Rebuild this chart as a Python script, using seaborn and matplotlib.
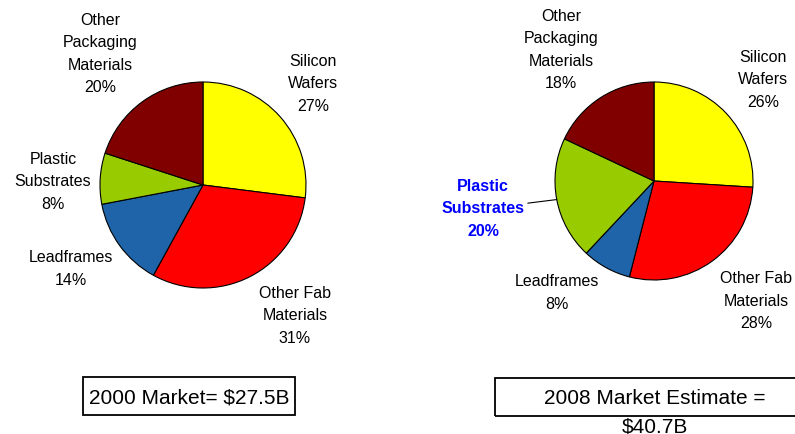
"""
Semiconductor materials market share, 2000 vs 2008 estimate.
Two pies side by side with market size boxes underneath.
"""
import numpy as np
import matplotlib
matplotlib.use("Agg")
import matplotlib.pyplot as plt
import seaborn as sns
from matplotlib.patches import Rectangle

sns.set_theme(style="white")
plt.rcParams["font.family"] = ["Liberation Sans", "DejaVu Sans"]

# data
segments = ["Silicon\nWafers", "Other Fab\nMaterials", "Leadframes",
            "Plastic\nSubstrates", "Other\nPackaging\nMaterials"]
share_2000 = [27, 31, 14, 8, 20]
share_2008 = [26, 28, 8, 20, 18]
market_2000 = "2000 Market= $27.5B"
market_2008 = "2008 Market Estimate =\n$40.7B"

colors = ["#FFFF00", "#FF0000", "#1F64A8", "#99CC00", "#800000"]

W, H = 795, 435
fig = plt.figure(figsize=(W / 100, H / 100), dpi=100)
ax = fig.add_axes([0, 0, 1, 1])


def py(y):
    # pixel row -> data y
    return H - y


wedge_style = dict(edgecolor="black", linewidth=0.8)
label_style = dict(ha="center", va="center", fontsize=11.5, linespacing=1.63)

# left pie (2000)
w_left, _ = ax.pie(share_2000, colors=colors, startangle=90, counterclock=False,
                   center=(203, py(186)), radius=103, wedgeprops=wedge_style, frame=True)
left_pos = [(313, 84), (295, 316), (71, 269), (53, 182), (100, 54)]
for name, val, (x, y) in zip(segments, share_2000, left_pos):
    ax.text(x, py(y), f"{name}\n{val}%", color="black", **label_style)

# right pie (2008)
w_right, _ = ax.pie(share_2008, colors=colors, startangle=90, counterclock=False,
                    center=(654, py(182)), radius=99, wedgeprops=wedge_style, frame=True)
right_pos = [(763, 80), (756, 301), (557, 293), (483, 209), (561, 50)]
for i, (name, val, (x, y)) in enumerate(zip(segments, share_2008, right_pos)):
    txt = f"{name}\n{val}%"
    if i == 3:
        # highlighted slice, with a leader line to the wedge edge
        w = w_right[i]
        mid = np.deg2rad((w.theta1 + w.theta2) / 2)
        edge = (w.center[0] + w.r * np.cos(mid), w.center[1] + w.r * np.sin(mid))
        ax.annotate(txt, xy=edge, xytext=(x, py(y)), color="#0000FF", fontweight="bold",
                    arrowprops=dict(arrowstyle="-", color="black", lw=0.8,
                                    shrinkA=0, shrinkB=0,
                                    connectionstyle="arc,angleA=0,angleB=0,armA=6,armB=0,rad=0"),
                    **label_style)
    else:
        ax.text(x, py(y), txt, color="black", **label_style)

# market size boxes
ax.add_patch(Rectangle((83, py(416)), 212, 38, fill=False, edgecolor="black", lw=1.3))
ax.text(189, py(398), market_2000, ha="center", va="center", fontsize=15, color="black")

ax.add_patch(Rectangle((495, py(417)), 320, 38, fill=False, edgecolor="black", lw=1.3))
ax.text(655, py(413), market_2008, ha="center", va="center", fontsize=15,
        linespacing=1.6, color="black")

ax.set_xlim(0, W)
ax.set_ylim(0, H)
ax.set_aspect("auto")
ax.axis("off")

fig.savefig("out.png", dpi=100, facecolor="white")
